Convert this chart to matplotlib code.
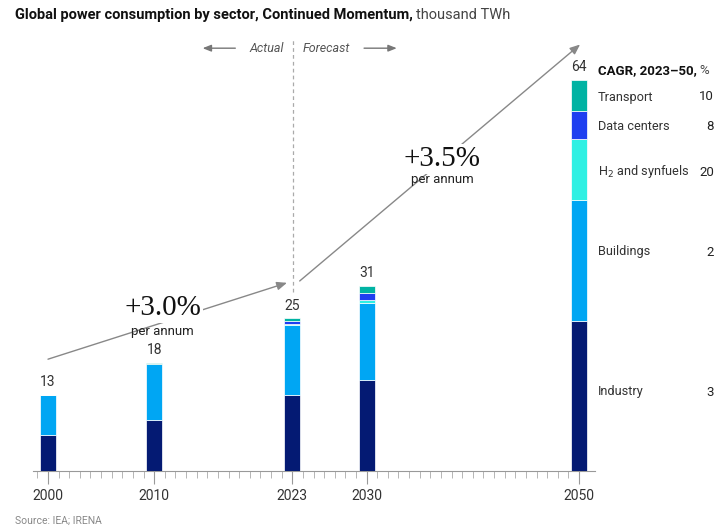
import matplotlib
matplotlib.use('Agg')
import matplotlib.pyplot as plt
import numpy as np

# data, thousand TWh
years = [2000, 2010, 2023, 2030, 2050]
industry = [5.9, 8.3, 12.4, 14.9, 24.6]
buildings = [6.6, 9.2, 11.5, 12.6, 19.8]
h2_synfuels = [0.0, 0.0, 0.2, 0.45, 10.0]
data_centers = [0.0, 0.0, 0.5, 1.25, 4.5]
transport = [0.0, 0.2, 0.4, 1.1, 5.1]
totals = ['13', '18', '25', '31', '64']

sectors = ['Industry', 'Buildings', 'H$_2$ and synfuels', 'Data centers', 'Transport']
cagr = ['3', '2', '20', '8', '10']
colors = ['#041a73', '#00a6f3', '#2ef0e3', '#1f3ff0', '#00b3a3']

series = [industry, buildings, h2_synfuels, data_centers, transport]

plt.rcParams['font.family'] = ['Roboto', 'DejaVu Sans']

fig = plt.figure(figsize=(7.17, 5.27), dpi=100, facecolor='white')
px_year = 10.62
px_unit = 6.11
x0 = 33 / 717
w = (595 - 33) / 717
ymax = 70
ax = fig.add_axes([x0, 56 / 527, w, ymax * px_unit / 527])
ax.set_xlim(2000 - 15 / px_year, 2000 + (595 - 48) / px_year)
ax.set_ylim(0, ymax)


def py(p):
    # pixel row -> data value
    return (471 - p) / px_unit


bottom = np.zeros(len(years))
for vals, col in zip(series, colors):
    vals = np.array(vals)
    ax.bar(years, vals, width=1.5, bottom=bottom, color=col,
           edgecolor='white', linewidth=0.5, zorder=3)
    bottom += vals

for yr, top, lab in zip(years, bottom, totals):
    ax.text(yr, top + 0.9, lab, ha='center', va='bottom', fontsize=10,
            color='#333333')

# axis styling
for s in ['top', 'right', 'left']:
    ax.spines[s].set_visible(False)
ax.spines['bottom'].set_color('#999999')
ax.spines['bottom'].set_linewidth(0.8)
ax.set_yticks([])
ax.set_xticks(years)
ax.set_xticklabels([str(y) for y in years], fontsize=10, color='#333333')
ax.set_xticks(np.arange(1999, 2051), minor=True)
ax.tick_params(axis='x', which='major', length=9, width=0.8, color='#999999', pad=4)
ax.tick_params(axis='x', which='minor', length=5, width=0.6, color='#aaaaaa')

# actual / forecast divider
ax.plot([2023.1, 2023.1], [29.3, 70.5], color='#aaaaaa', lw=0.9,
        ls=(0, (3, 2.5)), clip_on=False, zorder=1)
ax.text(2022.2, 69.2, 'Actual', ha='right', va='center', fontsize=9,
        style='italic', color='#555555')
ax.text(2024.0, 69.2, 'Forecast', ha='left', va='center', fontsize=9,
        style='italic', color='#555555')
arrow_kw = dict(arrowstyle='-|>,head_length=0.5,head_width=0.2', color='#777777', lw=1.0)
ax.annotate('', xy=(2014.3, 69.2), xytext=(2017.9, 69.2), arrowprops=arrow_kw,
            annotation_clip=False)
ax.annotate('', xy=(2033.1, 69.2), xytext=(2029.5, 69.2), arrowprops=arrow_kw,
            annotation_clip=False)

# growth arrows
grow_kw = dict(arrowstyle='-|>,head_length=0.6,head_width=0.25', color='#888888',
               lw=1.0, shrinkA=0, shrinkB=0)
ax.annotate('', xy=(2022.5, 30.8), xytext=(2000, 18.3), arrowprops=grow_kw,
            annotation_clip=False, zorder=2)
ax.annotate('', xy=(2050.1, 69.8), xytext=(2023.7, 31.1), arrowprops=grow_kw,
            annotation_clip=False, zorder=2)
box = dict(facecolor='white', edgecolor='none', pad=1.5)
ax.text(2010.8, py(308), '+3.0%', ha='center', va='center', fontsize=21,
        family='Liberation Serif', color='#111111', bbox=box, zorder=4)
ax.text(2010.8, py(332), 'per annum', ha='center', va='center', fontsize=9.5,
        color='#222222', zorder=4)
ax.text(2037.1, py(159), '+3.5%', ha='center', va='center', fontsize=21,
        family='Liberation Serif', color='#111111', bbox=box, zorder=4)
ax.text(2037.1, py(179), 'per annum', ha='center', va='center', fontsize=9.5,
        color='#222222', zorder=4)

# right-hand legend with CAGR
lab_x = 2000 + (598 - 48) / px_year
val_x = 2000 + (714 - 48) / px_year
lab_rows = [392, 252, 172, 126, 97]
for name, v, r in zip(sectors, cagr, lab_rows):
    ax.text(lab_x, py(r), name, ha='left', va='center', fontsize=9.2,
            color='#333333', clip_on=False)
    ax.text(val_x, py(r), v, ha='right', va='center', fontsize=9.5,
            color='#222222', clip_on=False)

fig.canvas.draw()
rend = fig.canvas.get_renderer()
hdr_y = 1 - 71 / 527
hdr = fig.text(598 / 717, hdr_y, 'CAGR, 2023\u201350,', ha='left', va='center',
               fontsize=9.5, fontweight='bold', color='#111111')
bb = hdr.get_window_extent(rend)
fig.text(bb.x1 / 717 + 3 / 717, hdr_y, '%', ha='left', va='center',
         fontsize=9.5, color='#444444')

# title
ttl_y = 1 - 15 / 527
ttl = fig.text(15 / 717, ttl_y, 'Global power consumption by sector, Continued Momentum,',
               ha='left', va='center', fontsize=10.5, fontweight='bold', color='#111111')
bb = ttl.get_window_extent(rend)
fig.text(bb.x1 / 717 + 3 / 717, ttl_y, 'thousand TWh', ha='left', va='center',
         fontsize=10.5, color='#444444')

fig.text(15 / 717, 1 - 521 / 527, 'Source: IEA; IRENA', ha='left', va='center',
         fontsize=7.5, color='#888888')

fig.savefig('out.png', dpi=100, facecolor='white')
